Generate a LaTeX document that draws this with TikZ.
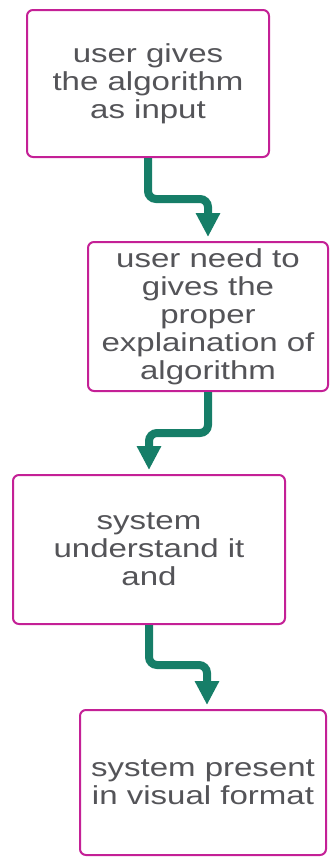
\documentclass[tikz,border=0pt]{standalone}
\usepackage{fontspec}
\usepackage{tikz}
\usetikzlibrary{arrows.meta}
\newfontfamily\boxfont[FakeStretch=1.27]{Liberation Sans}
\definecolor{boxmagenta}{RGB}{196,32,150}
\definecolor{flowteal}{RGB}{22,126,104}
\definecolor{textgray}{RGB}{84,84,88}

\begin{document}
\begin{tikzpicture}[x=1pt, y=-1pt, node distance=233pt]
    \tikzstyle{box} = [rectangle, rounded corners=6pt, line width=2pt, draw=boxmagenta, fill=white, text=textgray, align=center, font={\boxfont\fontsize{26pt}{28pt}\selectfont}]
    \tikzstyle{flow} = [draw=flowteal, line width=8pt, rounded corners=8pt, shorten >=4pt, -{Triangle[width=23pt, length=24pt]}]

    \useasboundingbox (0,0) rectangle (330,857);

    % Steps
    \node [box, minimum width=242pt, minimum height=147pt] (input) at (148,83.5) {user gives\\the algorithm\\as input};
    \node [box, minimum width=240pt, minimum height=149pt, below of=input, xshift=60pt] (explain) {user need to\\gives the\\proper\\explaination of\\algorithm};
    \node [box, minimum width=272pt, minimum height=149pt, below of=explain, xshift=-59pt] (understand) {system\\understand it\\and};
    \node [box, minimum width=246pt, minimum height=145pt, below of=understand, xshift=54pt] (present) {system present\\in visual format};

    % Arrows
    \draw [flow] (input.south) -- ++(0,41) -| (explain.north);
    \draw [flow] (explain.south) -- ++(0,41) -| (understand.north);
    \draw [flow] (understand.south) -- ++(0,40) -| ([xshift=4pt]present.north);
\end{tikzpicture}
\end{document}
